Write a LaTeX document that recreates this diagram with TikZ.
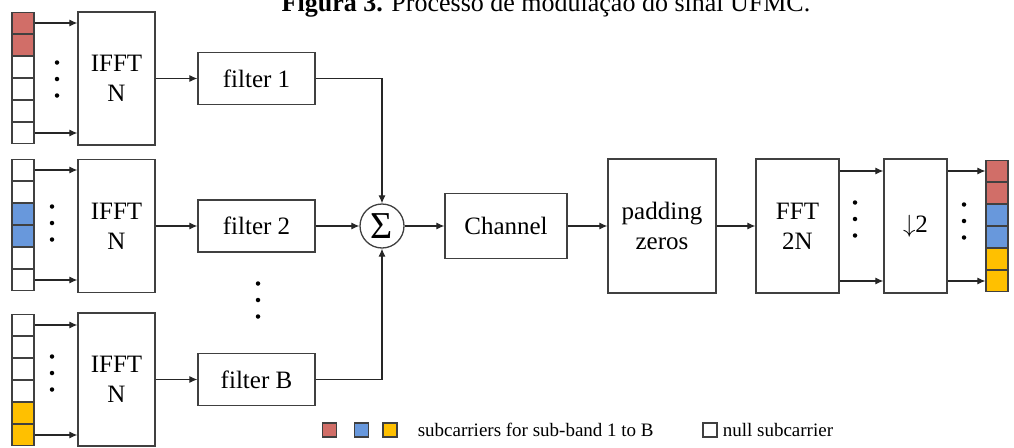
\documentclass[tikz,border=0pt]{standalone}
\usepackage{fontspec}
\setmainfont{Liberation Serif}
\usetikzlibrary{arrows.meta,positioning}
\definecolor{subred}{RGB}{209,110,104}
\definecolor{subblue}{RGB}{104,152,220}
\definecolor{subyellow}{RGB}{255,192,0}

\begin{document}
\begin{tikzpicture}
    [x=1pt,y=-1pt,
    block/.style={rectangle,draw=black!75,line width=1.3pt,inner sep=0pt,align=center,
      font=\fontsize{25}{30}\selectfont},
    cell/.style={rectangle,draw=black!75,line width=1.2pt,inner sep=0pt,
      minimum width=22pt,minimum height=21pt},
    legbox/.style={rectangle,draw=black!75,line width=1.2pt,inner sep=0pt,minimum size=14pt},
    dot/.style={circle,fill=black,inner sep=0pt,minimum size=4.5pt},
    link/.style={draw=black!85,line width=1.1pt,-{Latex[length=8pt,width=7pt]}}]
    \useasboundingbox (0,0) rectangle (1014,447);
    % caption, cut at the top
    \node (caption) at (546,12) [anchor=base,font=\fontsize{26}{30}\selectfont]
      {\textbf{Figura 3.} Processo de modulação do sinal UFMC.};
    % input subcarriers of the sub-bands
    \foreach \g/\top/\fills in {1/12/{subred,subred,white,white,white,white},
                                2/159/{white,white,subblue,subblue,white,white},
                                3/314/{white,white,white,white,subyellow,subyellow}}
      \foreach \c [count=\k] in \fills
        \node (c\g-\k) at (23,{\top+11+22*(\k-1)}) [cell,fill=\c] {};
    \node (ifft1) at (116.5,78.5) [block,minimum width=77pt,minimum height=133pt] {IFFT\\N};
    \node (ifft2) at (116.5,226) [block,minimum width=77pt,minimum height=133pt] {IFFT\\N};
    \node (ifft3) at (116.5,379.5) [block,minimum width=77pt,minimum height=133pt] {IFFT\\N};
    \foreach \g in {1,2,3} {
      \draw [link] (c\g-1.east) -- (ifft\g.west |- c\g-1.east);
      \draw [link] (c\g-6.east) -- (ifft\g.west |- c\g-6.east);
    }
    \node (filter1) at (256.5,78.5) [block,minimum width=117pt,minimum height=52pt] {filter 1};
    \node (filter2) at (256.5,226) [block,minimum width=117pt,minimum height=52pt] {filter 2};
    \node (filter3) at (256.5,379.5) [block,minimum width=117pt,minimum height=52pt] {filter B};
    \foreach \g in {1,2,3}
      \draw [link] (ifft\g) -- (filter\g);
    % sum and channel
    \node (sum) at (382,226) [circle,draw=black!75,line width=1.3pt,inner sep=0pt,minimum size=44pt,
      font=\fontsize{38}{38}\selectfont] {Σ};
    \draw [link] (filter1.east) -| (sum.north);
    \draw [link] (filter2.east) -- (sum.west);
    \draw [link] (filter3.east) -| (sum.south);
    \node (channel) at (506,226) [block,minimum width=122pt,minimum height=65pt] {Channel};
    \node (padding) at (662,226) [block,minimum width=108pt,minimum height=134pt] {padding\\zeros};
    \node (fft) at (797.5,226) [block,minimum width=83pt,minimum height=134pt] {FFT\\2N};
    \node (down) at (915.5,226) [block,minimum width=63pt,minimum height=134pt] {$\downarrow$2};
    \draw [link] (sum) -- (channel);
    \draw [link] (channel) -- (padding);
    \draw [link] (padding) -- (fft);
    % output subcarriers
    \foreach \c [count=\k] in {subred,subred,subblue,subblue,subyellow,subyellow}
      \node (o\k) at (997,{171+22*(\k-1)}) [cell,fill=\c] {};
    \draw [link] (fft.east |- o1) -- (down.west |- o1);
    \draw [link] (fft.east |- o6) -- (down.west |- o6);
    \draw [link] (down.east |- o1) -- (o1.west);
    \draw [link] (down.east |- o6) -- (o6.west);
    % dots
    \foreach \x/\y [count=\i] in {57/79,52/223,52/373,258/300,855/219,964/221}
      \foreach \d [count=\j] in {-16.5,0,16.5}
        \node (dots\i-\j) at (\x,\y+\d) [dot] {};
    % legend
    \node (legred) at (329.5,430) [legbox,fill=subred] {};
    \node (legblue) at (361.5,430) [legbox,fill=subblue] {};
    \node (legyellow) at (390,430) [legbox,fill=subyellow] {};
    \node (legtext) [right=20pt of legyellow,inner sep=0pt,font=\fontsize{19}{22}\selectfont]
      {subcarriers for sub-band 1 to B};
    \node (legnull) at (710,430) [legbox,fill=white] {};
    \node (nulltext) [right=5pt of legnull,inner sep=0pt,font=\fontsize{19}{22}\selectfont]
      {null subcarrier};
\end{tikzpicture}
\end{document}
